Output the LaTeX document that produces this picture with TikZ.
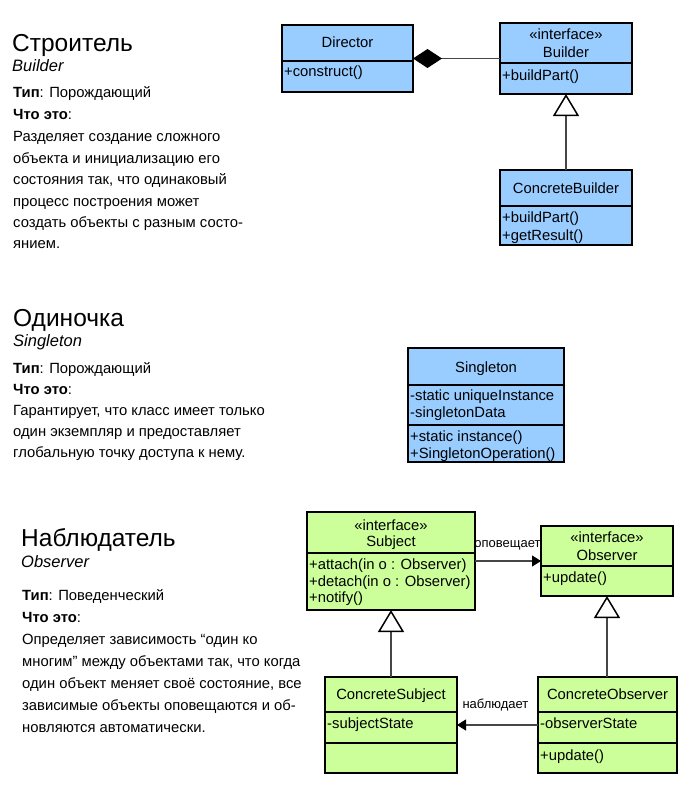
\documentclass[tikz,border=0pt]{standalone}
\usepackage{fontspec}
\setmainfont{Liberation Sans}
\usetikzlibrary{arrows.meta}
\definecolor{cblue}{RGB}{153,204,255}
\definecolor{cgreen}{RGB}{204,255,153}
\definecolor{conn}{RGB}{70,70,70}
\tikzset{
  cls/.style={draw=black, line width=1.4pt, anchor=north west, inner sep=0pt, outer sep=0pt},
  bluecls/.style={cls, fill=cblue},
  greencls/.style={cls, fill=cgreen},
  div/.style={line width=1.4pt, black},
  nm/.style={inner sep=0pt, anchor=base, font=\fontsize{14.8}{17}\selectfont},
  mem/.style={inner sep=0pt, anchor=base west, font=\fontsize{14.8}{17}\selectfont},
  body/.style={inner sep=0pt, anchor=base west, font=\fontsize{14.8}{17}\selectfont},
  ttl/.style={inner sep=0pt, anchor=base west, font=\fontsize{24.5}{28}\selectfont},
  subttl/.style={inner sep=0pt, anchor=base west, font=\fontsize{16.5}{19}\selectfont\itshape},
  lbl/.style={inner sep=0pt, anchor=base, font=\fontsize{13}{15}\selectfont},
  inh/.style={draw=conn, line width=1.2pt, -{Triangle[length=22pt, width=26pt, line width=1.5pt, color=black, fill=white]}},
  comp/.style={draw=conn, line width=1.2pt, -{Diamond[length=29pt, width=19pt, color=black]}},
  assoc/.style={draw=conn, line width=1.2pt, -{Triangle[length=9pt, width=11pt, color=black]}}
}
\begin{document}
\begin{tikzpicture}[x=1pt, y=-1pt]
\useasboundingbox (0,0) rectangle (699,800);
\fill[white] (0,0) rectangle (699,800);

% ---------- Builder text ----------
\node[ttl] (t1) at (12,52) {Строитель};
\node[subttl] (s1) at (12,71) {Builder};
\node[body] (k1) at (13,97) {\textbf{Тип}: Порождающий};
\node[body] (w1) at (13,119) {\textbf{Что это}:};
\node[body] (b1a) at (13,141.5) {Разделяет создание сложного};
\node[body] (b1b) at (13,163) {объекта и инициализацию его};
\node[body] (b1c) at (13,184.5) {состояния так, что одинаковый};
\node[body] (b1d) at (13,206) {процесс построения может};
\node[body] (b1e) at (13,227) {создать объекты с разным состо-};
\node[body] (b1f) at (13,248) {янием.};

% ---------- Builder diagram ----------
\node[bluecls, minimum width=131pt, minimum height=67pt] (director) at (282,25) {};
\draw[div] (director.west |- 0,61) -- (director.east |- 0,61);
\node[nm] (directorN) at (347.5,48) {Director};
\node[mem] (directorM) at (284,77) {+construct()};

\node[bluecls, minimum width=132pt, minimum height=71pt] (builder) at (500,23) {};
\draw[div] (builder.west |- 0,63) -- (builder.east |- 0,63);
\node[nm] (builderS) at (566,40) {«interface»};
\node[nm] (builderN) at (566,57) {Builder};
\node[mem] (builderM) at (502,81) {+buildPart()};

\node[bluecls, minimum width=132pt, minimum height=75pt] (cbuilder) at (500,170) {};
\draw[div] (cbuilder.west |- 0,206) -- (cbuilder.east |- 0,206);
\node[nm] (cbuilderN) at (566,193) {ConcreteBuilder};
\node[mem] (cbuilderM1) at (502,222) {+buildPart()};
\node[mem] (cbuilderM2) at (502,240) {+getResult()};

\draw[comp] (builder.west) -- (director.east);
\draw[inh] (cbuilder.north) -- (builder.south);

% ---------- Singleton text ----------
\node[ttl] (t2) at (13,326) {Одиночка};
\node[subttl] (s2) at (13,346) {Singleton};
\node[body] (k2) at (13,373) {\textbf{Тип}: Порождающий};
\node[body] (w2) at (13,394) {\textbf{Что это}:};
\node[body] (b2a) at (13,415) {Гарантирует, что класс имеет только};
\node[body] (b2b) at (13,436) {один экземпляр и предоставляет};
\node[body] (b2c) at (13,457) {глобальную точку доступа к нему.};

% ---------- Singleton diagram ----------
\node[bluecls, minimum width=156pt, minimum height=114pt] (single) at (408,348) {};
\draw[div] (single.west |- 0,385) -- (single.east |- 0,385);
\draw[div] (single.west |- 0,425) -- (single.east |- 0,425);
\node[nm] (singleN) at (486,372) {Singleton};
\node[mem] (singleM1) at (410,400) {-static uniqueInstance};
\node[mem] (singleM2) at (410,417) {-singletonData};
\node[mem] (singleM3) at (410,441) {+static instance()};
\node[mem] (singleM4) at (410,458) {+SingletonOperation()};

% ---------- Observer text ----------
\node[ttl] (t3) at (21,546) {Наблюдатель};
\node[subttl] (s3) at (21,567) {Observer};
\node[body] (k3) at (22,600) {\textbf{Тип}: Поведенческий};
\node[body] (w3) at (22,622) {\textbf{Что это}:};
\node[body] (b3a) at (22,644) {Определяет зависимость “один ко};
\node[body] (b3b) at (22,666) {многим” между объектами так, что когда};
\node[body] (b3c) at (22,688) {один объект меняет своё состояние, все};
\node[body] (b3d) at (22,710) {зависимые объекты оповещаются и об-};
\node[body] (b3e) at (22,732) {новляются автоматически.};

% ---------- Observer diagram ----------
\node[greencls, minimum width=168pt, minimum height=98pt] (subject) at (307,512) {};
\draw[div] (subject.west |- 0,553) -- (subject.east |- 0,553);
\node[nm] (subjectS) at (391,530) {«interface»};
\node[nm] (subjectN) at (391,546) {Subject};
\node[mem] (subjectM1) at (309,569) {+attach(in o : Observer)};
\node[mem] (subjectM2) at (309,586) {+detach(in o : Observer)};
\node[mem] (subjectM3) at (309,602) {+notify()};

\node[greencls, minimum width=132pt, minimum height=70pt] (observer) at (541,526) {};
\draw[div] (observer.west |- 0,566) -- (observer.east |- 0,566);
\node[nm] (observerS) at (607,542) {«interface»};
\node[nm] (observerN) at (607,560) {Observer};
\node[mem] (observerM) at (543,582) {+update()};

\node[greencls, minimum width=132pt, minimum height=96pt] (csubject) at (325,677) {};
\draw[div] (csubject.west |- 0,712) -- (csubject.east |- 0,712);
\draw[div] (csubject.west |- 0,743) -- (csubject.east |- 0,743);
\node[nm] (csubjectN) at (391,699) {ConcreteSubject};
\node[mem] (csubjectM) at (327,728) {-subjectState};

\node[greencls, minimum width=139pt, minimum height=96pt] (cobserver) at (538,677) {};
\draw[div] (cobserver.west |- 0,712) -- (cobserver.east |- 0,712);
\draw[div] (cobserver.west |- 0,743) -- (cobserver.east |- 0,743);
\node[nm] (cobserverN) at (607.5,699) {ConcreteObserver};
\node[mem] (cobserverM1) at (540,728) {-observerState};
\node[mem] (cobserverM2) at (540,760) {+update()};

\draw[assoc] (subject.east) -- (observer.west);
\node[lbl] (notifyL) at (507.5,547) {оповещает};
\draw[assoc] (cobserver.west) -- (csubject.east);
\node[lbl] (watchL) at (495.5,708) {наблюдает};
\draw[inh] (csubject.north) -- (subject.south);
\draw[inh] (cobserver.north -| observer.south) -- (observer.south);
\end{tikzpicture}
\end{document}
